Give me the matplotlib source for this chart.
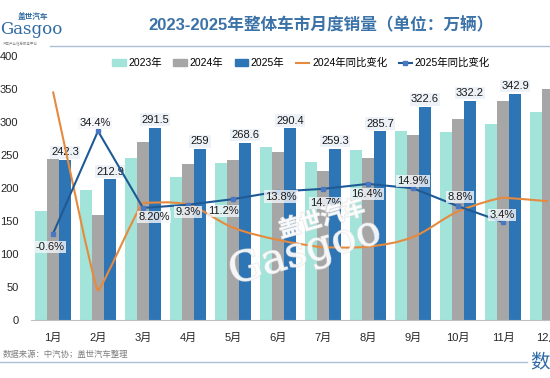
import matplotlib
matplotlib.use('Agg')
import matplotlib.pyplot as plt
import numpy as np
from matplotlib.path import Path
from matplotlib.patches import PathPatch, Patch
from matplotlib.lines import Line2D
import matplotlib.patheffects as pe

plt.rcParams['font.family'] = ['Liberation Sans', 'Noto Sans CJK SC', 'DejaVu Sans']

# 数据（万辆 / %）
months = ['1月', '2月', '3月', '4月', '5月', '6月', '7月', '8月', '9月', '10月', '11月', '12月']
sales_2023 = [164.9, 197.6, 245.1, 216.0, 238.2, 262.2, 238.7, 258.2, 285.8, 285.3, 297.0, 315.6]
sales_2024 = [243.9, 158.4, 269.4, 235.9, 241.7, 255.2, 226.2, 245.3, 280.9, 305.3, 331.7, 349.6]
sales_2025 = [242.3, 212.9, 291.5, 259, 268.6, 290.4, 259.3, 285.7, 322.6, 332.2, 342.9]
yoy_2024 = [47.9, -19.9, 9.9, 9.3, 1.5, -2.7, -5.2, -5.0, -1.7, 7.0, 11.7, 10.5]
yoy_2025 = [-0.6, 34.4, 8.2, 9.3, 11.2, 13.8, 14.7, 16.4, 14.9, 8.8, 3.4]
yoy_2025_labels = ['-0.6%', '34.4%', '8.20%', '9.3%', '11.2%', '13.8%', '14.7%',
                   '16.4%', '14.9%', '8.8%', '3.4%']

# 标签偏移（像素）
pct_offsets = [(-3, -13), (-3, 8), (11, -9), (0, -7), (-10, -12), (3, -5),
               (3, -14), (-1, -10), (0, 7), (2, 9), (-1, 7)]

c23, c24, c25 = '#a2e3da', '#a6a6a6', '#2e75b6'
c_or, c_bl = '#e58a3e', '#1f5a96'
accent = '#2f6aa3'

W, H = 550, 378
fig = plt.figure(figsize=(W / 100, H / 100), dpi=100)
ax = fig.add_axes([31 / W, 1 - 320 / H, 519 / W, 264 / H])

x = np.arange(len(months))
bw = 0.267
ax.bar(x - bw, sales_2023, bw, color=c23, zorder=2)
ax.bar(x, sales_2024, bw, color=c24, zorder=2)
x25 = x[:len(sales_2025)]
ax.bar(x25 + bw, sales_2025, bw, color=c25, zorder=2)

for xi, v in zip(x25, sales_2025):
    ax.annotate(f'{v:g}', (xi + bw, v), xytext=(0, 2), textcoords='offset points',
                ha='center', va='bottom', fontsize=8, color='#1a1a1a', zorder=6,
                bbox=dict(boxstyle='square,pad=0.12', fc='#edf2f8', ec='none'))

ax.set_xlim((31 - 53) / 45, (550 - 53) / 45)
ax.set_ylim(0, 400)
ax.set_yticks(range(0, 401, 50))
ax.set_xticks(x)
ax.set_xticklabels(months)
ax.tick_params(axis='both', length=0, labelsize=8, colors='#262626')
ax.tick_params(axis='x', pad=9)
ax.tick_params(axis='y', pad=9)
for s in ['top', 'right', 'left']:
    ax.spines[s].set_visible(False)
ax.spines['bottom'].set_color('#bfbfbf')

# 同比变化（次坐标轴，隐藏）
ax2 = ax.twinx()
ax2.set_ylim(-30, 60)
ax2.axis('off')

# 2024 平滑曲线：极值点处切线水平且很短，其余按 Catmull-Rom
pts = np.column_stack([x, yoy_2024]).astype(float)
n = len(pts)
tang = np.zeros_like(pts)
for i in range(n):
    p_prev = pts[max(i - 1, 0)]
    p_next = pts[min(i + 1, n - 1)]
    y = pts[i, 1]
    if 0 < i < n - 1 and (y - p_prev[1]) * (p_next[1] - y) <= 0:
        tang[i] = (0.08, 0.0)
    else:
        tang[i] = (p_next - p_prev) / 6
verts = [tuple(pts[0])]
codes = [Path.MOVETO]
for i in range(n - 1):
    verts += [tuple(pts[i] + tang[i]), tuple(pts[i + 1] - tang[i + 1]), tuple(pts[i + 1])]
    codes += [Path.CURVE4] * 3
ax2.add_patch(PathPatch(Path(verts, codes), fc='none', ec=c_or, lw=1.5, zorder=3))

ax2.plot(x25, yoy_2025, color=c_bl, lw=1.5, marker='s', markersize=3.5,
         markerfacecolor='#4a78c0', markeredgecolor='#4a78c0', zorder=4)
for xi, v, lab, (dx, dy) in zip(x25, yoy_2025, yoy_2025_labels, pct_offsets):
    ax2.annotate(lab, (xi, v), xytext=(dx, dy), textcoords='offset pixels',
                 ha='center', va='center', fontsize=8, color='#1a1a1a', zorder=6,
                 bbox=dict(boxstyle='square,pad=0.1', fc='#f3f6fa', ec='none', alpha=0.8))

# 水印
wm = [pe.withStroke(linewidth=1.0, foreground='#e2e2e2')]
fig.text(322 / W, 1 - 220 / H, '盖世汽车', fontsize=16, color='white', alpha=0.8,
         rotation=16, ha='center', va='center', weight='bold', path_effects=wm)
fig.text(305 / W, 1 - 252 / H, 'Gasgoo', fontsize=30, color='white', alpha=0.7,
         rotation=16, ha='center', va='center', family='DejaVu Serif', path_effects=wm)

# 图例
handles = [Patch(color=c23), Patch(color=c24), Patch(color=c25),
           Line2D([], [], color=c_or, lw=1.5),
           Line2D([], [], color=c_bl, lw=1.5, marker='s', markersize=3,
                  markerfacecolor='#4a78c0', markeredgecolor='#4a78c0')]
labels = ['2023年', '2024年', '2025年', '2024年同比变化', '2025年同比变化']
fig.legend(handles, labels, loc='center', bbox_to_anchor=(301 / W, 1 - 63 / H), ncol=5,
           frameon=False, fontsize=7.5, handlelength=1.3, handleheight=0.6,
           handletextpad=0.25, columnspacing=1.1)

# 标题与装饰
fig.text(321 / W, 1 - 25 / H, '2023-2025年整体车市月度销量（单位：万辆）', fontsize=12,
         weight='bold', color='#3b72a8', ha='center', va='center')
fig.add_artist(Line2D([50 / W, 1], [1 - 46 / H] * 2, color='#a9c0d6', lw=1))
fig.text(18 / W, 1 - 17 / H, '盖世汽车', fontsize=5.5, weight='bold', color=accent,
         va='center')
fig.text(0, 1 - 30 / H, 'Gasgoo', fontsize=12, color=accent, va='center',
         family='DejaVu Serif')
fig.text(3 / W, 1 - 44 / H, '汽车产业信息服务平台', fontsize=2.5, color='#8a8a8a', va='center')

fig.text(3 / W, 1 - 355 / H, '数据来源：中汽协；盖世汽车整理', fontsize=6, color='#7f7f7f',
         va='center')
fig.add_artist(Line2D([0, 527 / W], [1 - 362 / H] * 2, color='#a9c0d6', lw=1))
fig.text(530 / W, 1 - 363 / H, '数', fontsize=14, color=accent, va='center')

fig.savefig('out.png', dpi=100)
